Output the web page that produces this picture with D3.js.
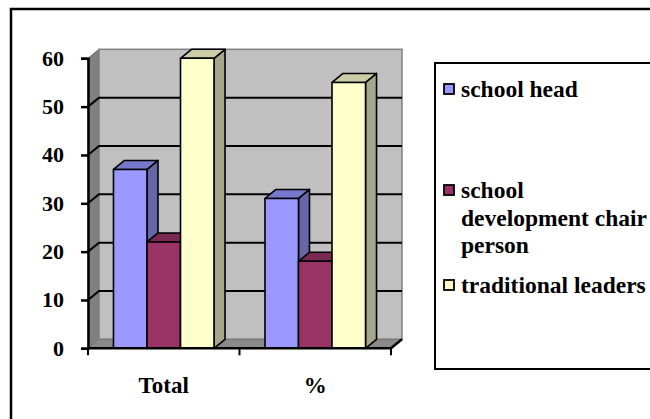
<!DOCTYPE html>
<html>
<head>
<meta charset="utf-8">
<script src="https://cdn.jsdelivr.net/npm/d3@7"></script>
<style>
  body { margin: 0; background: #fff; }
</style>
</head>
<body>
<svg id="chart" width="650" height="419"></svg>
<script>
// data
let categories = ['Total', '%']
let seriesNames = ['school head', 'school development chair person', 'traditional leaders']
let schoolHead = [37, 31]
let schoolDev = [22, 18]
let traditional = [60, 55]
let yTicks = [0, 10, 20, 30, 40, 50, 60]
let legendLines = [['school head'], ['school', 'development chair', 'person'], ['traditional leaders']]

let series = [schoolHead, schoolDev, traditional]

// colours: front, side, top
let colors = [
    { front: '#9999ff', side: '#6666a8', top: '#7777cc' },
    { front: '#993366', side: '#6b2447', top: '#7a2952' },
    { front: '#ffffcc', side: '#a6a68a', top: '#cccca6' }
]

let svg = d3.select('#chart')

// new text element, font set before the string goes in
let addText = (px, py, size, str) => svg.append('text')
    .attr('x', px).attr('y', py)
    .attr('font-family', 'Liberation Serif')
    .attr('font-weight', 'bold')
    .attr('font-size', size)
    .text(str)

// outer frame (right and bottom run off the page)
svg.append('rect')
    .attr('x', 11).attr('y', 9)
    .attr('width', 800).attr('height', 600)
    .attr('fill', 'none').attr('stroke', '#000').attr('stroke-width', 2.5)

// depth offset of the 3d look
let dx = 11
let dy = -9

let y = d3.scaleLinear().domain([0, 60]).range([348.3, 58.3])
let x = d3.scaleBand().domain(categories).range([88, 391]).padding(0)
let xs = d3.scaleBand().domain(d3.range(series.length)).range([0, x.bandwidth()])
    .paddingInner(0).paddingOuter(0.76)

let x0 = x.range()[0]
let x1 = x.range()[1]
let yTop = y(60)
let yBot = y(0)

let poly = (pts) => d3.line()(pts) + 'Z'

// side wall
svg.append('path')
    .attr('d', poly([[x0, yBot], [x0, yTop], [x0 + dx, yTop + dy], [x0 + dx, yBot + dy]]))
    .attr('fill', '#808080').attr('stroke', '#666').attr('stroke-width', 1)

// back wall
svg.append('rect')
    .attr('x', x0 + dx).attr('y', yTop + dy)
    .attr('width', x1 - x0).attr('height', yBot - yTop)
    .attr('fill', '#c0c0c0').attr('stroke', '#808080').attr('stroke-width', 1.5)

// floor
svg.append('path')
    .attr('d', poly([[x0, yBot], [x0 + dx, yBot + dy], [x1 + dx, yBot + dy], [x1, yBot]]))
    .attr('fill', '#8a8a8a').attr('stroke', '#777').attr('stroke-width', 1)

// gridlines on the walls
let grid = yTicks.filter(t => t > 0 && t < 60)
grid.forEach(t => {
    svg.append('path')
        .attr('d', d3.line()([[x0, y(t)], [x0 + dx, y(t) + dy], [x1 + dx, y(t) + dy]]))
        .attr('fill', 'none').attr('stroke', '#000').attr('stroke-width', 2)
})

// bars, left to right so later faces cover earlier sides
categories.forEach((cat, ci) => {
    series.forEach((vals, si) => {
        let bx = x(cat) + xs(si)
        let bw = xs.bandwidth()
        let by = y(vals[ci])
        let c = colors[si]
        let g = svg.append('g')
        g.append('path')
            .attr('d', poly([[bx + bw, by], [bx + bw + dx, by + dy], [bx + bw + dx, yBot + dy], [bx + bw, yBot]]))
            .attr('fill', c.side)
        g.append('path')
            .attr('d', poly([[bx, by], [bx + dx, by + dy], [bx + bw + dx, by + dy], [bx + bw, by]]))
            .attr('fill', c.top)
        g.append('rect')
            .attr('x', bx).attr('y', by)
            .attr('width', bw).attr('height', yBot - by)
            .attr('fill', c.front)
        g.selectAll('path, rect')
            .attr('stroke', '#000').attr('stroke-width', 1.6).attr('stroke-linejoin', 'round')
    })
})

// y axis: line and ticks from d3, labels redrawn in serif
let yAxis = d3.axisLeft(y).tickValues(yTicks).tickSize(7).tickFormat('')
let gy = svg.append('g').attr('transform', `translate(${x0},0)`).call(yAxis)
gy.select('.domain').attr('stroke-width', 2.5)
gy.selectAll('.tick line').attr('stroke-width', 2.5)
yTicks.forEach(t => {
    addText(x0 - 24, y(t), 22, t)
        .attr('text-anchor', 'end')
        .attr('dy', '0.34em')
})

// x axis line + ticks at band edges
svg.append('path')
    .attr('d', d3.line()([[x0, yBot], [x1, yBot], [x1 + dx, yBot + dy]]))
    .attr('fill', 'none').attr('stroke', '#000').attr('stroke-width', 2.5)
let edges = [x0].concat(categories.map(c => x(c) + x.bandwidth()))
edges.forEach(e => {
    svg.append('line')
        .attr('x1', e).attr('x2', e).attr('y1', yBot).attr('y2', yBot + 7)
        .attr('stroke', '#000').attr('stroke-width', 2)
})
categories.forEach(d => {
    addText(x(d) + x.bandwidth() / 2, 393, 23, d)
        .attr('text-anchor', 'middle')
})

// legend
svg.append('rect')
    .attr('x', 435).attr('y', 63)
    .attr('width', 300).attr('height', 306)
    .attr('fill', '#fff').attr('stroke', '#000').attr('stroke-width', 2)

let legendBase = [97, 198, 293]
let lineGap = 27.5
seriesNames.forEach((name, i) => {
    svg.append('rect')
        .attr('x', 444).attr('y', legendBase[i] - 13)
        .attr('width', 10).attr('height', 10)
        .attr('fill', colors[i].front)
        .attr('stroke', '#000').attr('stroke-width', 1.8)
    legendLines[i].forEach((line, li) => {
        addText(461, legendBase[i] + li * lineGap, 23.5, line)
    })
})
</script>
</body>
</html>
